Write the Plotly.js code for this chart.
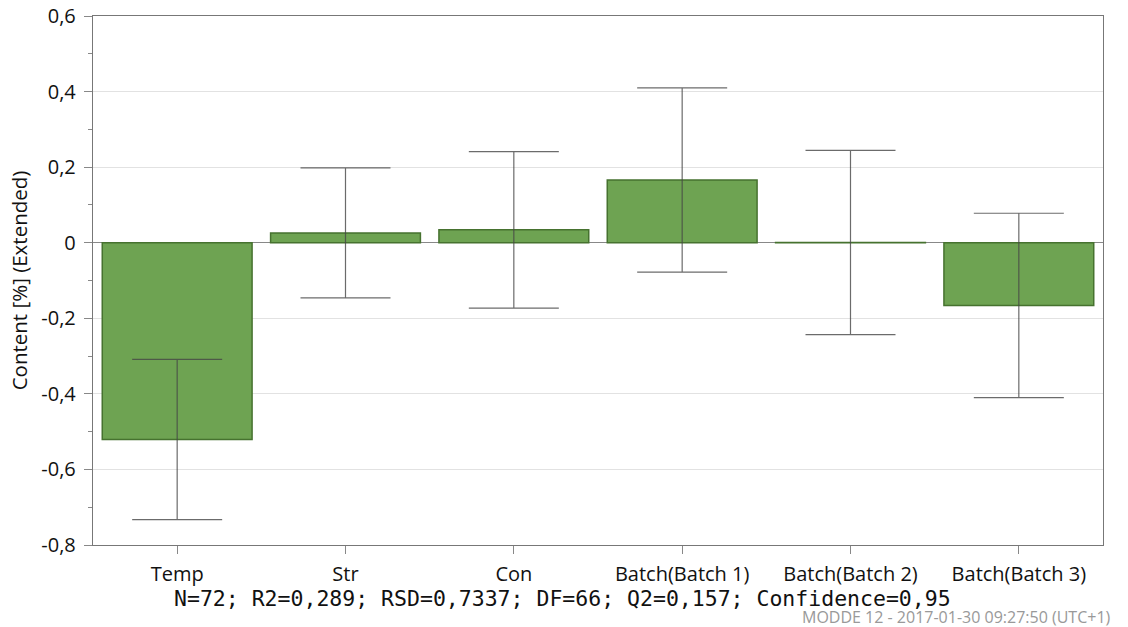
<!DOCTYPE html>
<html><head><meta charset="utf-8">
<script src="https://cdn.plot.ly/plotly-3.0.1.min.js"></script>
<style>body{margin:0;background:#fff}#c{width:1128px;height:627px}</style>
</head><body><div id="c"></div>
<script>
const categories = ["Temp","Str","Con","Batch(Batch 1)","Batch(Batch 2)","Batch(Batch 3)"];
const effects = [-0.521, 0.026, 0.034, 0.166, 0.0005, -0.166];
const confInt = [0.212, 0.172, 0.207, 0.244, 0.244, 0.244];
const yTickVals = [0.6, 0.4, 0.2, 0, -0.2, -0.4, -0.6, -0.8];
const yTickText = ["0,6","0,4","0,2","0","-0,2","-0,4","-0,6","-0,8"];
const statsText = "N=72; R2=0,289; RSD=0,7337; DF=66; Q2=0,157; Confidence=0,95";
const stampText = "MODDE 12 - 2017-01-30 09:27:50 (UTC+1)";

const font = "'Open Sans', 'Noto Sans', sans-serif";
const trace = {
  type: "bar", x: categories, y: effects, width: 0.89,
  marker: {color: "#6ea352", line: {color: "#46722f", width: 1.5}},
  error_y: {type: "data", array: confInt, visible: true, color: "rgba(70,70,70,0.8)", thickness: 1.2, width: 45},
  hoverinfo: "none"
};
const layout = {
  width: 1128, height: 627,
  margin: {l: 93, r: 25, t: 16, b: 82},
  paper_bgcolor: "#fff", plot_bgcolor: "#fff",
  showlegend: false,
  font: {family: font, size: 20, color: "#111"},
  xaxis: {
    range: [-0.5, 5.5], showline: true, mirror: true, linecolor: "#777", linewidth: 1.2,
    ticks: "outside", ticklen: 8, tickcolor: "#888", tickfont: {size: 20, family: font},
    ticklabelstandoff: 3,
    showgrid: false, zeroline: false, fixedrange: true
  },
  yaxis: {
    range: [-0.8, 0.6], tickvals: yTickVals, ticktext: yTickText,
    showline: true, mirror: true, linecolor: "#777", linewidth: 1.2,
    ticks: "outside", ticklen: 8, tickcolor: "#888", ticklabelstandoff: 4,
    minor: {dtick: 0.1, tick0: 0, ticks: "outside", ticklen: 4, tickcolor: "#888", showgrid: false},
    showgrid: true, gridcolor: "#e2e2e2", gridwidth: 1.2,
    zeroline: true, zerolinecolor: "#888", zerolinewidth: 1.2,
    tickfont: {size: 20, family: font},
    title: {text: "Content [%] (Extended)", font: {size: 20.5, family: font}, standoff: 8},
    fixedrange: true
  },
  annotations: [
    {text: statsText, xref: "paper", yref: "paper", x: 0.4644, y: -0.101, xanchor: "center", yanchor: "middle",
     showarrow: false, font: {family: "'DejaVu Sans Mono', monospace", size: 21.5, color: "#111"}},
    {text: stampText, xref: "paper", yref: "paper", x: 0.700, y: -0.136, xanchor: "left", yanchor: "middle",
     showarrow: false, font: {family: font, size: 16, color: "#999"}}
  ]
};
Plotly.newPlot("c", [trace], layout, {displayModeBar: false, staticPlot: true});
</script></body></html>
